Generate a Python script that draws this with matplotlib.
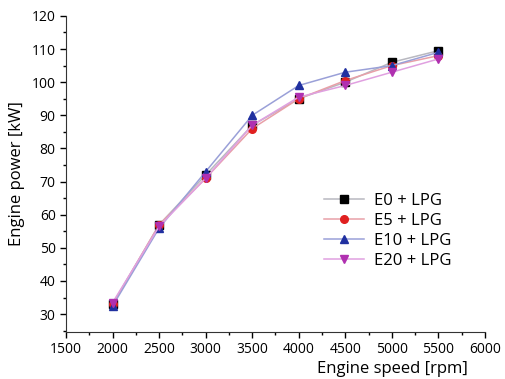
import matplotlib.pyplot as plt
import numpy as np

speed = [2000, 2500, 3000, 3500, 4000, 4500, 5000, 5500]
e0 = [33, 57, 72, 87, 95, 100, 106, 109.5]
e5 = [33, 57, 71, 86, 95, 100.5, 105, 108]
e10 = [32.5, 56, 73, 90, 99, 103, 105, 109]
e20 = [33.5, 56.5, 71, 87, 95.5, 99, 103, 107]

labels = ['E0 + LPG', 'E5 + LPG', 'E10 + LPG', 'E20 + LPG']
line_colors = ['#b8b8c0', '#e8a0a8', '#9aa0d8', '#e0a0e0']
marker_colors = ['#000000', '#e02020', '#2030a0', '#b030b0']
markers = ['s', 'o', '^', 'v']

plt.rcParams['font.family'] = ['Open Sans', 'DejaVu Sans']
fig = plt.figure(figsize=(5.05, 3.79), dpi=100)
ax = fig.add_axes([0.131, 0.124, 0.829, 0.834])

for ys, lc, mc, m, lab in zip([e0, e5, e10, e20], line_colors, marker_colors, markers, labels):
    ax.plot(speed, ys, '-', color=lc, lw=1.1, marker=m, markersize=5.5,
            markerfacecolor=mc, markeredgecolor=mc, label=lab)

ax.set_xlim(1500, 6000)
ax.set_ylim(24.6, 120)
ax.set_xticks(np.arange(1500, 6001, 500))
ax.set_yticks(np.arange(30, 121, 10))
ax.set_xticks(np.arange(1750, 6000, 500), minor=True)
ax.set_yticks(np.arange(25, 120, 5), minor=True)
ax.tick_params(labelsize=10, direction='out', length=4, width=1)
ax.tick_params(which='minor', length=2, width=1)
ax.spines['top'].set_visible(False)
ax.spines['right'].set_visible(False)
ax.spines['left'].set_color('#333333')
ax.spines['bottom'].set_color('#333333')

ax.set_ylabel('Engine power [kW]', fontsize=12, labelpad=5)
fig.text(0.927, 0.005, 'Engine speed [rpm]', fontsize=12, ha='right', va='bottom')

ax.legend(loc='center left', bbox_to_anchor=(0.6, 0.32), frameon=False, fontsize=12,
          handlelength=2.4, labelspacing=0.25, borderaxespad=0, handletextpad=0.6)

fig.savefig('out.png', dpi=100)
